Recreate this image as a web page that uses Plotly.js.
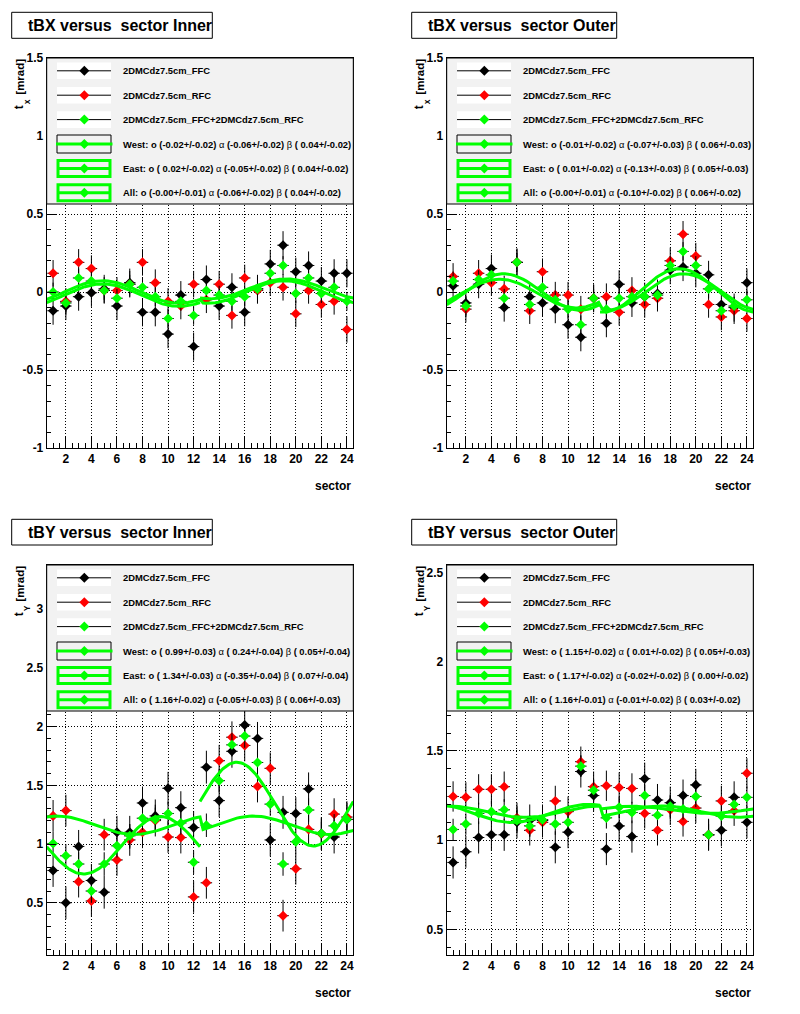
<!DOCTYPE html>
<html><head><meta charset="utf-8">
<script src="https://cdn.plot.ly/plotly-3.0.1.min.js"></script>
<style>html,body{margin:0;padding:0;background:#fff;}#chart{width:800px;height:1014px;}</style>
</head><body><div id="chart"></div>
<script>
// ---------------- DATA ----------------
const sectors = [1,2,3,4,5,6,7,8,9,10,11,12,13,14,15,16,17,18,19,20,21,22,23,24];
const xTickVals = [2,4,6,8,10,12,14,16,18,20,22,24];
const xTickText = ['2','4','6','8','10','12','14','16','18','20','22','24'];

const seriesNames = ['2DMCdz7.5cm_FFC','2DMCdz7.5cm_RFC','2DMCdz7.5cm_FFC+2DMCdz7.5cm_RFC'];
const panelTitles = ['tBX versus\u00a0 sector Inner','tBX versus\u00a0 sector Outer','tBY versus\u00a0 sector Inner','tBY versus\u00a0 sector Outer'];
const yTitleMain = ['t','t','t','t'];
const yTitleSub = ['x','x','Y','Y'];
const yTitleUnit = '[mrad]';
const xTitle = 'sector';

// tBX Inner
const p1_ffc = [-0.12,-0.09,-0.03,-0.005,0.02,-0.09,0.06,-0.13,-0.13,-0.27,-0.02,-0.35,0.08,-0.09,0.03,-0.13,0.02,0.18,0.30,0.13,0.17,0.07,0.12,0.12];
const p1_rfc = [0.12,-0.06,0.19,0.15,0.01,0.01,0.05,0.19,0.06,-0.06,-0.09,0.05,-0.05,0.05,-0.15,0.09,0.01,0.06,0.03,-0.14,0.01,-0.08,-0.06,-0.24];
const p1_cmb = [0.00,-0.07,0.09,0.07,0.01,-0.04,0.05,0.03,-0.03,-0.17,-0.06,-0.15,0.01,-0.02,-0.06,-0.03,0.02,0.12,0.17,-0.01,0.09,-0.01,0.03,-0.06];
// tBX Outer
const p2_ffc = [0.04,-0.07,0.05,0.15,-0.10,0.19,-0.03,-0.07,-0.11,-0.21,-0.29,-0.04,-0.20,0.05,-0.07,-0.03,-0.01,0.14,0.16,0.12,0.11,-0.08,-0.10,0.06];
const p2_rfc = [0.10,-0.11,0.12,0.06,0.02,0.19,-0.12,0.13,-0.02,-0.02,-0.11,-0.04,-0.03,-0.13,0.01,-0.08,-0.04,0.20,0.37,0.23,-0.08,-0.16,-0.12,-0.17];
const p2_cmb = [0.07,-0.09,0.08,0.11,-0.04,0.19,-0.08,0.03,-0.05,-0.11,-0.21,-0.04,-0.11,-0.04,-0.03,-0.03,-0.02,0.17,0.26,0.17,0.02,-0.12,-0.09,-0.05];
// tBY Inner
const p3_ffc = [0.775,0.50,0.98,0.69,0.59,1.10,1.10,1.35,1.24,1.475,1.31,1.14,1.655,1.37,1.79,2.015,1.90,1.035,1.27,1.26,1.47,1.09,1.06,1.21];
const p3_rfc = [1.24,1.285,0.68,0.515,1.08,0.865,1.035,1.10,1.20,1.06,1.055,0.55,0.67,1.71,1.91,1.84,1.49,1.645,0.39,0.79,1.125,1.085,1.255,1.23];
const p3_cmb = [1.005,0.90,0.83,0.60,0.83,0.985,1.07,1.22,1.21,1.26,1.18,0.845,1.16,1.54,1.845,1.92,1.695,1.34,0.83,1.02,1.29,1.09,1.155,1.21];
// tBY Outer
const p4_ffc = [0.875,0.935,1.015,1.03,1.03,1.10,1.11,1.11,0.96,1.045,1.385,1.25,0.95,1.08,1.02,1.345,1.225,1.21,1.25,1.31,1.03,1.055,1.24,1.10];
const p4_rfc = [1.245,1.24,1.285,1.285,1.30,1.125,1.055,1.10,1.22,1.16,1.44,1.30,1.305,1.295,1.29,1.15,1.055,1.17,1.105,1.18,1.03,1.22,1.165,1.375];
const p4_cmb = [1.06,1.09,1.15,1.16,1.17,1.11,1.08,1.115,1.09,1.10,1.415,1.28,1.125,1.185,1.155,1.25,1.14,1.19,1.175,1.245,1.03,1.135,1.20,1.24];

// error bar half-lengths per series [FFC, RFC, combined]
const p1_err = [0.09,0.085,0.06];
const p2_err = [0.09,0.085,0.06];
const p3_err = [0.14,0.135,0.10];
const p4_err = [0.09,0.085,0.06];

// fit parameters [o, alpha, beta] and their errors, for West, East, All
const p1_fitW = [-0.02,-0.06,0.04], p1_fitW_e = [0.02,0.02,0.02];
const p1_fitE = [0.02,-0.05,0.04],  p1_fitE_e = [0.02,0.02,0.02];
const p1_fitA = [-0,-0.06,0.04],    p1_fitA_e = [0.01,0.02,0.02];
const p2_fitW = [-0.01,-0.07,0.06], p2_fitW_e = [0.02,0.03,0.03];
const p2_fitE = [0.01,-0.13,0.05],  p2_fitE_e = [0.02,0.03,0.03];
const p2_fitA = [-0,-0.10,0.06],    p2_fitA_e = [0.01,0.02,0.02];
const p3_fitW = [0.99,0.24,0.05],   p3_fitW_e = [0.03,0.04,0.04];
const p3_fitE = [1.34,-0.35,0.07],  p3_fitE_e = [0.03,0.04,0.04];
const p3_fitA = [1.16,-0.05,0.06],  p3_fitA_e = [0.02,0.03,0.03];
const p4_fitW = [1.15,0.01,0.05],   p4_fitW_e = [0.02,0.02,0.03];
const p4_fitE = [1.17,-0.02,0.00],  p4_fitE_e = [0.02,0.02,0.02];
const p4_fitA = [1.16,-0.01,0.03],  p4_fitA_e = [0.01,0.02,0.02];

// y axis ranges and tick labels
const p1_yrange = [-1, 1.5], p2_yrange = [-1, 1.5], p3_yrange = [0.055, 3.377], p4_yrange = [0.356, 2.543];
const p1_yticks = [-1,-0.5,0,0.5,1,1.5], p1_ytext = ['-1','-0.5','0','0.5','1','1.5'];
const p2_yticks = [-1,-0.5,0,0.5,1,1.5], p2_ytext = ['-1','-0.5','0','0.5','1','1.5'];
const p3_yticks = [0.5,1,1.5,2,2.5,3],   p3_ytext = ['0.5','1','1.5','2','2.5','3'];
const p4_yticks = [0.5,1,1.5,2,2.5],     p4_ytext = ['0.5','1','1.5','2','2.5'];

// ---------------- STYLE / LAYOUT ----------------
const W = 800, H = 1014;
const px = x => x / W, py = y => 1 - y / H;
const FONT = 'Liberation Sans, Arial, Helvetica, sans-serif';
const colors = ['#000000', '#ff0000', '#00ff00'];
const FITC = '#00ff00';

// sector -> azimuth (deg) model for the fit function o + a*sin(phi) + b*cos(phi)
const modelX = {w: 90, e: -270};
const modelY = {w: 0, e: -180};

const panels = [
  {L:46.7, R:353.3, T:58,  B:448, tx:[11.7,212.3,12.3,38.3],  data:[p1_ffc,p1_rfc,p1_cmb], err:p1_err, fits:[[p1_fitW,p1_fitW_e],[p1_fitE,p1_fitE_e],[p1_fitA,p1_fitA_e]], model:modelX, yr:p1_yrange, yt:p1_yticks, ytt:p1_ytext},
  {L:446.7,R:753.3, T:58,  B:448, tx:[411.7,616.7,12.3,38.3], data:[p2_ffc,p2_rfc,p2_cmb], err:p2_err, fits:[[p2_fitW,p2_fitW_e],[p2_fitE,p2_fitE_e],[p2_fitA,p2_fitA_e]], model:modelX, yr:p2_yrange, yt:p2_yticks, ytt:p2_ytext},
  {L:46.7, R:353.3, T:565, B:955, tx:[11.7,212.3,519.3,545],  data:[p3_ffc,p3_rfc,p3_cmb], err:p3_err, fits:[[p3_fitW,p3_fitW_e],[p3_fitE,p3_fitE_e],[p3_fitA,p3_fitA_e]], model:modelY, yr:p3_yrange, yt:p3_yticks, ytt:p3_ytext},
  {L:446.7,R:753.3, T:565, B:955, tx:[411.7,616.7,519.3,545], data:[p4_ffc,p4_rfc,p4_cmb], err:p4_err, fits:[[p4_fitW,p4_fitW_e],[p4_fitE,p4_fitE_e],[p4_fitA,p4_fitA_e]], model:modelY, yr:p4_yrange, yt:p4_yticks, ytt:p4_ytext}
];

function fitValue(model, p, s, side) {
  const phi = (side === 'W' ? (model.w - 30 * s) : (30 * s + model.e)) * Math.PI / 180;
  return p[0] + p[1] * Math.sin(phi) + p[2] * Math.cos(phi);
}
function sampleFit(model, p, xmin, xmax, sideFn) {
  const xs = [], ys = [];
  for (let k = 0; k <= 100; k++) {
    const s = xmin + k * (xmax - xmin) / 100;
    xs.push(s); ys.push(fitValue(model, p, s, sideFn(s)));
  }
  return {xs, ys};
}
const fmt = v => ((v < 0 || Object.is(v, -0)) ? '-' : ' ') + Math.abs(v).toFixed(2);
const fitLabel = (name, p, e) => name + ': o (' + fmt(p[0]) + '+/-' + e[0].toFixed(2) + ') <span style="font-weight:normal">\u03b1</span> (' +
  fmt(p[1]) + '+/-' + e[1].toFixed(2) + ') <span style="font-weight:normal">\u03b2</span> (' + fmt(p[2]) + '+/-' + e[2].toFixed(2) + ')';

const traces = [], shapes = [], annotations = [];
const layout = {
  width: W, height: H, margin: {l:0, r:0, t:0, b:0},
  paper_bgcolor: '#ffffff', plot_bgcolor: '#ffffff', showlegend: false,
  font: {family: FONT, color: '#000'}
};

panels.forEach((P, i) => {
  const k = i === 0 ? '' : String(i + 1);
  const xa = 'x' + k, ya = 'y' + k;
  const axFont = {family: FONT, size: 12, weight: 'bold', color: '#000'};
  layout['xaxis' + k] = {
    domain: [px(P.L), px(P.R)], anchor: ya, range: [0.5, 24.5],
    tickmode: 'array', tickvals: xTickVals, ticktext: xTickText,
    ticks: 'inside', ticklen: 11, tickwidth: 1, tickcolor: '#000',
    minor: {tickmode: 'linear', tick0: 0.5, dtick: 0.5, ticks: 'inside', ticklen: 5.5, tickwidth: 1, tickcolor: '#000', showgrid: false},
    showgrid: true, gridcolor: '#000', gridwidth: 1, griddash: '1px,2px',
    showline: true, mirror: true, linecolor: '#000', linewidth: 1, zeroline: false,
    tickfont: axFont, fixedrange: true
  };
  layout['yaxis' + k] = {
    domain: [py(P.B), py(P.T)], anchor: xa, range: P.yr,
    tickmode: 'array', tickvals: P.yt, ticktext: P.ytt,
    ticks: 'inside', ticklen: 9, tickwidth: 1, tickcolor: '#000',
    minor: {tickmode: 'linear', tick0: 0, dtick: 0.1, ticks: 'inside', ticklen: 4.5, tickwidth: 1, tickcolor: '#000', showgrid: false},
    showgrid: true, gridcolor: '#000', gridwidth: 1, griddash: '1px,2px',
    showline: true, mirror: true, linecolor: '#000', linewidth: 1, zeroline: false,
    tickfont: axFont, fixedrange: true
  };

  // data points
  P.data.forEach((vals, j) => {
    traces.push({
      type: 'scatter', mode: 'markers', x: sectors, y: vals, xaxis: xa, yaxis: ya,
      marker: {symbol: 'diamond', size: 7.7, color: colors[j], line: {width: 0}},
      error_y: {type: 'constant', value: P.err[j], color: '#000', thickness: 1, width: 0},
      error_x: {type: 'constant', value: 0.45, color: '#000', thickness: 1, width: 0},
      hoverinfo: 'skip', cliponaxis: true
    });
  });
  // fits: West (sectors 1-12), East (13-24), All (piecewise)
  const fw = sampleFit(P.model, P.fits[0][0], 0.5, 12.5, () => 'W');
  const fe = sampleFit(P.model, P.fits[1][0], 12.5, 24.5, () => 'E');
  const fa = sampleFit(P.model, P.fits[2][0], 0.5, 24.5, s => (s <= 12.5 ? 'W' : 'E'));
  [fw, fe, fa].forEach(f => traces.push({
    type: 'scatter', mode: 'lines', x: f.xs, y: f.ys, xaxis: xa, yaxis: ya,
    line: {color: FITC, width: 3}, hoverinfo: 'skip'
  }));

  // title box
  shapes.push({type: 'rect', xref: 'paper', yref: 'paper', x0: px(P.tx[0]), x1: px(P.tx[1]), y0: py(P.tx[3]), y1: py(P.tx[2]),
    line: {color: '#000', width: 1}, fillcolor: '#fff', layer: 'above'});
  annotations.push({xref: 'paper', yref: 'paper', x: px(P.tx[0] + 14), y: py((P.tx[2] + P.tx[3]) / 2 + 0.3), xanchor: 'left', yanchor: 'middle',
    text: panelTitles[i], showarrow: false, font: {family: FONT, size: 16, weight: 'bold', color: '#000'}});

  // y title: "t", subscript, "[mrad]" (rotated, aligned to top of frame)
  annotations.push({xref: 'paper', yref: 'paper', x: px(P.L - 27), y: py(P.T - 1), xanchor: 'center', yanchor: 'top', textangle: -90,
    text: yTitleUnit, showarrow: false, font: {family: FONT, size: 11.5, weight: 'bold', color: '#000'}});
  annotations.push({xref: 'paper', yref: 'paper', x: px(P.L - 27.5), y: py(P.T + 49), xanchor: 'center', yanchor: 'middle', textangle: -90,
    text: yTitleMain[i], showarrow: false, font: {family: FONT, size: 12, weight: 'bold', color: '#000'}});
  annotations.push({xref: 'paper', yref: 'paper', x: px(P.L - 20), y: py(P.T + 43.5), xanchor: 'center', yanchor: 'middle', textangle: -90,
    text: yTitleSub[i], showarrow: false, font: {family: FONT, size: 8.5, weight: 'bold', color: '#000'}});
  // x title
  annotations.push({xref: 'paper', yref: 'paper', x: px(P.R), y: py(P.B + 37.7), xanchor: 'right', yanchor: 'middle',
    text: xTitle, showarrow: false, font: {family: FONT, size: 12, weight: 'bold', color: '#000'}});

  // legend box
  const LB = P.T + 146;
  shapes.push({type: 'rect', xref: 'paper', yref: 'paper', x0: px(P.L), x1: px(P.R), y0: py(LB), y1: py(P.T),
    line: {color: '#000', width: 1}, fillcolor: '#f2f2f2', layer: 'above'});
  const sx0 = P.L + 10.3, sx1 = P.L + 64.3, mx = P.L + 37.6;
  const diamond = (cx, cy, col) => shapes.push({type: 'path', xref: 'paper', yref: 'paper', layer: 'above',
    path: 'M' + px(cx - 5) + ',' + py(cy) + ' L' + px(cx) + ',' + py(cy - 5) + ' L' + px(cx + 5) + ',' + py(cy) + ' L' + px(cx) + ',' + py(cy + 5) + ' Z',
    fillcolor: col, line: {width: 0}});
  const labels = [seriesNames[0], seriesNames[1], seriesNames[2],
    fitLabel('West', P.fits[0][0], P.fits[0][1]), fitLabel('East', P.fits[1][0], P.fits[1][1]), fitLabel('All', P.fits[2][0], P.fits[2][1])];
  labels.forEach((lab, r) => {
    const cy = P.T + 12.8 + 24.4 * r;
    if (r < 3) {
      shapes.push({type: 'rect', xref: 'paper', yref: 'paper', x0: px(sx0), x1: px(sx1), y0: py(cy + 8.3), y1: py(cy - 8.3),
        line: {width: 0}, fillcolor: '#fff', layer: 'above'});
      shapes.push({type: 'line', xref: 'paper', yref: 'paper', x0: px(sx0), x1: px(sx1), y0: py(cy), y1: py(cy),
        line: {color: '#000', width: 1}, layer: 'above'});
      diamond(mx, cy, colors[r]);
    } else if (r === 3) {
      shapes.push({type: 'rect', xref: 'paper', yref: 'paper', x0: px(sx0), x1: px(sx1), y0: py(cy + 9), y1: py(cy - 9),
        line: {color: '#000', width: 1}, fillcolor: 'rgba(0,0,0,0)', layer: 'above'});
      shapes.push({type: 'line', xref: 'paper', yref: 'paper', x0: px(sx0 - 1), x1: px(sx1 + 1.5), y0: py(cy), y1: py(cy),
        line: {color: FITC, width: 3}, layer: 'above'});
      diamond(mx, cy, FITC);
    } else {
      shapes.push({type: 'rect', xref: 'paper', yref: 'paper', x0: px(sx0 + 1), x1: px(sx1 - 1), y0: py(cy + 8), y1: py(cy - 8),
        line: {color: FITC, width: 3}, fillcolor: 'rgba(0,0,0,0)', layer: 'above'});
      shapes.push({type: 'line', xref: 'paper', yref: 'paper', x0: px(sx0 + 1), x1: px(sx1 - 1), y0: py(cy), y1: py(cy),
        line: {color: FITC, width: 3}, layer: 'above'});
      diamond(mx, cy, FITC);
    }
    annotations.push({xref: 'paper', yref: 'paper', x: px(P.L + 74.5), y: py(cy), xanchor: 'left', yanchor: 'middle',
      text: lab, showarrow: false, font: {family: FONT, size: 9.4, weight: 'bold', color: '#000'}});
  });
});

layout.shapes = shapes;
layout.annotations = annotations;
Plotly.newPlot('chart', traces, layout, {staticPlot: true, displayModeBar: false});
</script>
</body></html>
